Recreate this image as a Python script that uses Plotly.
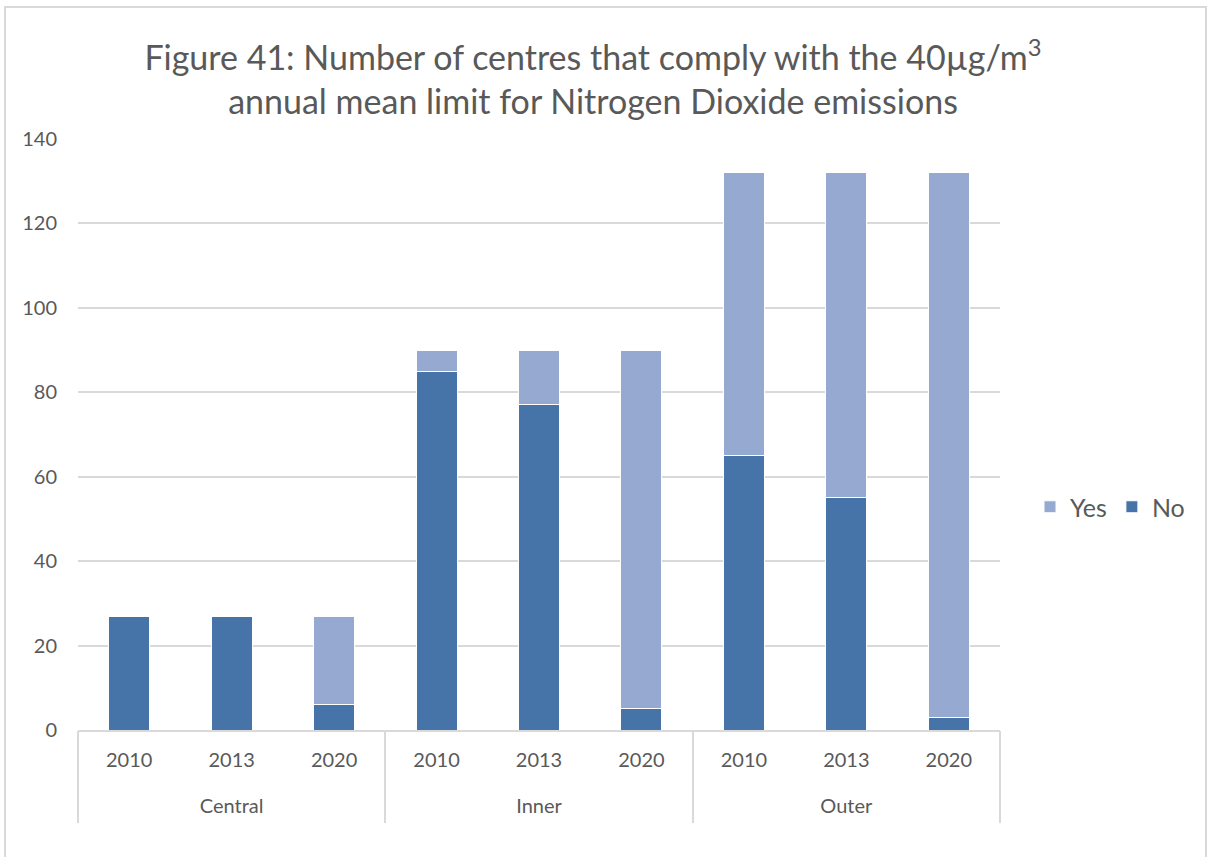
import plotly.graph_objects as go

# Chart data
regions = ["Central", "Central", "Central", "Inner", "Inner", "Inner", "Outer", "Outer", "Outer"]
years = ["2010", "2013", "2020", "2010", "2013", "2020", "2010", "2013", "2020"]
no_values = [27, 27, 6, 85, 77, 5, 65, 55, 3]
yes_values = [0, 0, 21, 5, 13, 85, 67, 77, 129]
y_ticks = [0, 20, 40, 60, 80, 100, 120, 140]
region_names = ["Central", "Inner", "Outer"]

FONT = "Lato, Calibri, Carlito, sans-serif"
TEXT = "#595959"
GRID = "#d9d9d9"
NO_COLOR = "#4673A8"
YES_COLOR = "#95A9D1"

# one category per (region, year) pair, labelled by its year
bar_keys = [f"{r} {y}" for r, y in zip(regions, years)]
n = len(bar_keys)

# group centres and group boundaries, in category index units
group_centres, group_edges = [], [-0.5]
for name in region_names:
    idx = [i for i, r in enumerate(regions) if r == name]
    group_centres.append((idx[0] + idx[-1]) / 2)
    group_edges.append(idx[-1] + 0.5)

fig = go.Figure()
fig.add_trace(go.Bar(
    x=bar_keys, y=no_values, name="No",
    marker=dict(color=NO_COLOR, line=dict(color="#ffffff", width=1)),
))
fig.add_trace(go.Bar(
    x=bar_keys, y=yes_values, name="Yes",
    marker=dict(color=YES_COLOR, line=dict(color="#ffffff", width=1)),
))
# invisible carrier for the region-level axis
fig.add_trace(go.Scatter(
    x=group_centres, y=[0] * len(group_centres), xaxis="x2",
    mode="markers", marker=dict(opacity=0), showlegend=False, hoverinfo="skip",
))

W, H = 1208, 857
L, R, T, B = 78, 208, 139, 127
pw, ph = W - L - R, H - T - B

def px_x(px):
    return (px - L) / pw

def px_y(py):
    return (H - B - py) / ph

fig.update_layout(
    width=W, height=H,
    barmode="stack",
    bargap=0.6,
    margin=dict(l=L, r=R, t=T, b=B, autoexpand=False),
    paper_bgcolor="white",
    plot_bgcolor="white",
    font=dict(family=FONT, color=TEXT, size=20),
    title=dict(
        text="Figure 41: Number of centres that comply with the 40µg/m<sup>3</sup><br>annual mean limit for Nitrogen Dioxide emissions",
        x=593 / W, xanchor="center",
        y=1 - 70 / H, yanchor="top", yref="container",
        font=dict(family=FONT, size=34, color=TEXT),
    ),
    legend=dict(
        orientation="h",
        traceorder="reversed",
        x=px_x(1030), xanchor="left",
        y=px_y(507), yanchor="middle",
        font=dict(size=25, color=TEXT),
        itemwidth=30,
        bgcolor="rgba(0,0,0,0)",
    ),
    showlegend=True,
    xaxis=dict(
        type="category",
        categoryorder="array", categoryarray=bar_keys,
        tickvals=bar_keys, ticktext=years,
        range=[-0.5, n - 0.5],
        showline=True, linecolor=GRID, linewidth=2,
        showgrid=False, ticks="",
        ticklabelstandoff=11,
        tickfont=dict(size=20, color=TEXT),
    ),
    xaxis2=dict(
        type="linear", overlaying="x", anchor="y", side="bottom",
        range=[-0.5, n - 0.5],
        tickvals=group_centres, ticktext=region_names,
        ticks="", showgrid=False, zeroline=False, showline=False,
        ticklabelstandoff=62,
        tickfont=dict(size=20, color=TEXT),
        minor=dict(tickvals=group_edges, ticks="outside", ticklen=92,
                   tickwidth=2, tickcolor=GRID, showgrid=False),
    ),
    yaxis=dict(
        range=[0, 140],
        tickvals=y_ticks,
        showgrid=True, gridcolor=GRID, gridwidth=2,
        zeroline=False, showline=False,
        ticks="", ticklabelstandoff=20,
        tickfont=dict(size=20, color=TEXT),
    ),
    shapes=[dict(
        type="rect", xref="paper", yref="paper",
        x0=px_x(5), x1=px_x(1206), y0=px_y(900), y1=px_y(7),
        line=dict(color=GRID, width=2), fillcolor="rgba(0,0,0,0)", layer="below",
    )],
)

fig.write_html("out.html")
